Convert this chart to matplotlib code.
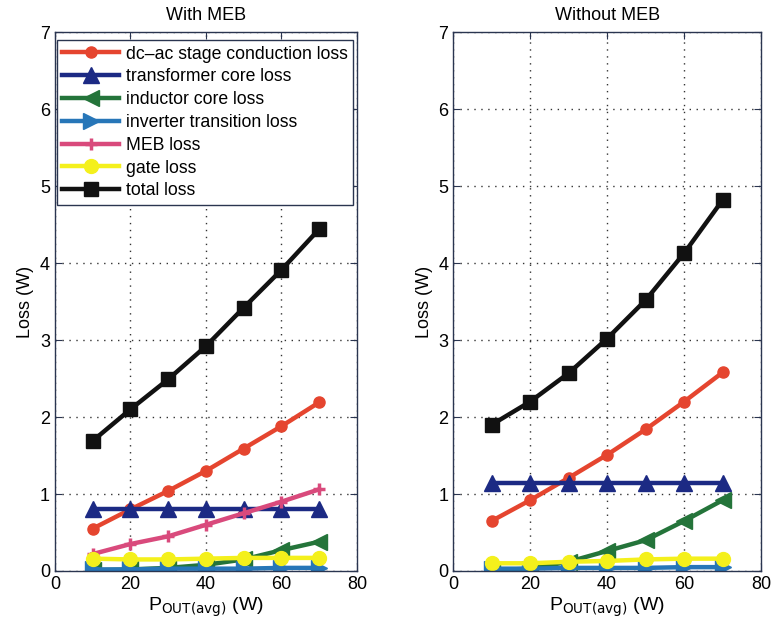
import matplotlib
matplotlib.use("Agg")
import matplotlib.pyplot as plt

plt.rcParams['font.family'] = ['Liberation Sans', 'DejaVu Sans']

p_out = [10, 20, 30, 40, 50, 60, 70]

# With MEB
meb_dcac = [0.55, 0.80, 1.04, 1.30, 1.59, 1.88, 2.19]
meb_xfmr = [0.81, 0.81, 0.81, 0.81, 0.81, 0.81, 0.81]
meb_ind = [0.01, 0.02, 0.04, 0.08, 0.15, 0.27, 0.38]
meb_inv = [0.02, 0.02, 0.03, 0.03, 0.03, 0.04, 0.04]
meb_meb = [0.22, 0.35, 0.45, 0.60, 0.75, 0.90, 1.06]
meb_gate = [0.16, 0.15, 0.15, 0.16, 0.17, 0.17, 0.17]
meb_total = [1.69, 2.10, 2.49, 2.92, 3.42, 3.91, 4.44]

# Without MEB
nomeb_dcac = [0.65, 0.92, 1.21, 1.51, 1.84, 2.20, 2.58]
nomeb_xfmr = [1.14, 1.14, 1.14, 1.14, 1.14, 1.14, 1.14]
nomeb_ind = [0.01, 0.03, 0.12, 0.26, 0.40, 0.65, 0.92]
nomeb_inv = [0.03, 0.03, 0.04, 0.04, 0.04, 0.05, 0.05]
nomeb_gate = [0.10, 0.10, 0.12, 0.13, 0.15, 0.16, 0.16]
nomeb_total = [1.90, 2.20, 2.57, 3.02, 3.52, 4.13, 4.82]

labels = ['dc\u2013ac stage conduction loss', 'transformer core loss',
          'inductor core loss', 'inverter transition loss', 'MEB loss',
          'gate loss', 'total loss']

styles = {
    'dcac': dict(color='#e5452f', marker='o', ms=8),
    'xfmr': dict(color='#1c2a84', marker='^', ms=11),
    'ind': dict(color='#24743a', marker='<', ms=11),
    'inv': dict(color='#2776b8', marker='>', ms=11),
    'meb': dict(color='#d94a7c', marker='+', ms=9, mew=2.5),
    'gate': dict(color='#f4f01c', marker='o', ms=10),
    'total': dict(color='#111111', marker='s', ms=10),
}

fig = plt.figure(figsize=(7.72, 6.28), dpi=100)
ax1 = fig.add_axes([0.0712, 0.0908, 0.391, 0.858])
ax2 = fig.add_axes([0.587, 0.0908, 0.399, 0.858])

def draw(ax, series):
    handles = []
    for key, vals, lab in series:
        h, = ax.plot(p_out, vals, lw=3.2, label=lab, **styles[key])
        handles.append(h)
    return handles

h1 = draw(ax1, [('dcac', meb_dcac, labels[0]), ('xfmr', meb_xfmr, labels[1]),
                ('ind', meb_ind, labels[2]), ('inv', meb_inv, labels[3]),
                ('meb', meb_meb, labels[4]), ('gate', meb_gate, labels[5]),
                ('total', meb_total, labels[6])])
draw(ax2, [('dcac', nomeb_dcac, labels[0]), ('xfmr', nomeb_xfmr, labels[1]),
           ('ind', nomeb_ind, labels[2]), ('inv', nomeb_inv, labels[3]),
           ('gate', nomeb_gate, labels[5]), ('total', nomeb_total, labels[6])])

for ax, title in [(ax1, 'With MEB'), (ax2, 'Without MEB')]:
    ax.set_xlim(0, 80)
    ax.set_ylim(0, 7)
    ax.set_xticks([0, 20, 40, 60, 80])
    ax.set_yticks(range(8))
    ax.grid(True, color='#333333', linestyle=(0, (1, 4)), linewidth=1.0)
    ax.tick_params(direction='in', top=True, right=True, labelsize=13,
                   length=5, color='#2a3550')
    for s in ax.spines.values():
        s.set_color('#2a3550')
        s.set_linewidth(1.0)
    ax.set_title(title, fontsize=13, pad=9)
    ax.set_ylabel('Loss (W)', fontsize=13)
    ax.set_xlabel(r'P$_{\mathrm{OUT(avg)}}$ (W)', fontsize=14, labelpad=2)

leg = ax1.legend(handles=h1, loc='upper left', bbox_to_anchor=(0.007, 0.985),
                 borderaxespad=0, fontsize=12.7, frameon=True,
                 fancybox=False, edgecolor='#2a3550', framealpha=1,
                 borderpad=0.3, labelspacing=0.33, handlelength=3.2,
                 handletextpad=0.4)
leg.get_frame().set_linewidth(1.0)

fig.savefig('out.png', dpi=100)
